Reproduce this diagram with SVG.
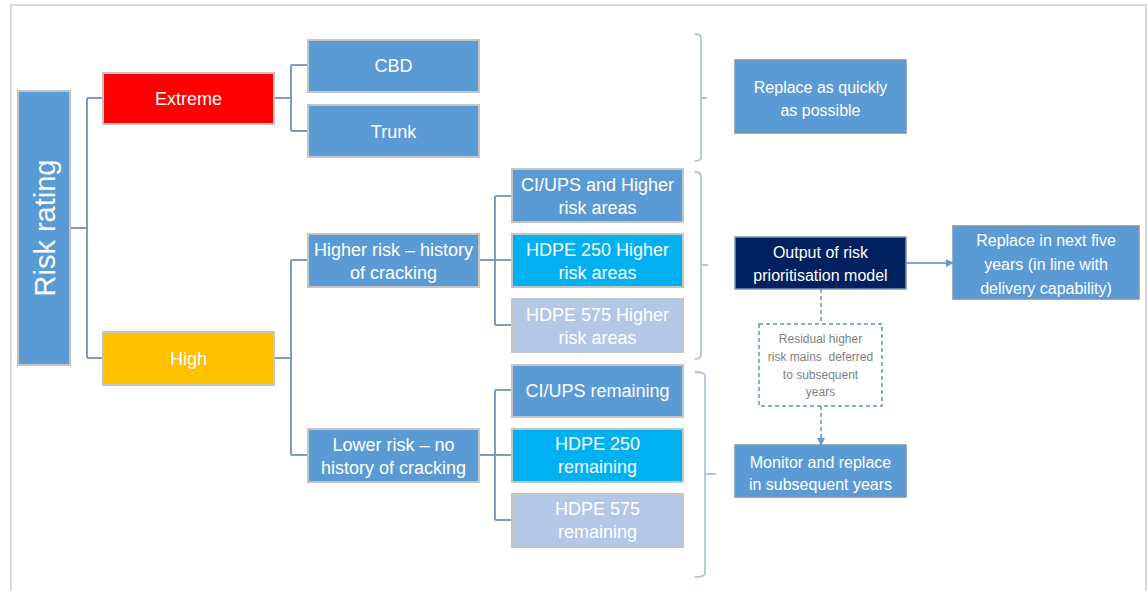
<svg xmlns="http://www.w3.org/2000/svg" width="1147" height="591" viewBox="0 0 1147 591">
<style>
.t{font-family:"Liberation Sans",Arial,sans-serif;fill:#fff;text-anchor:middle}
.f18{font-size:18px}
.f16{font-size:16px}
.box{stroke:#C4C4C4;stroke-width:2}
.rbox{stroke:#7F93AE;stroke-width:1.5}
.blue{fill:#5B9BD5}
.cyan{fill:#00B0F0}
.pale{fill:#B4C7E7}
.conn{fill:none;stroke:#7E9BBF;stroke-width:2}
.brace{fill:none;stroke:#B3C4D8;stroke-width:1.8}
</style>
<defs>
<marker id="ah" markerWidth="8" markerHeight="8" refX="7" refY="4" orient="auto" markerUnits="userSpaceOnUse">
<path d="M0,0 L8,4 L0,8 Z" fill="#6A9AD0"/>
</marker>
</defs>
<path d="M11,591 L11,5 L1146,5 L1146,591" fill="none" stroke="#D9D9D9" stroke-width="2"/>
<g id="connectors">
<path class="conn" d="M70,228 H87 M87,98 V358 M87,98 H103 M87,358 H103"/>
<path class="conn" d="M274,98 H291 M291,65 V131 M291,65 H308 M291,131 H308"/>
<path class="conn" d="M274,358 H291 M291,260 V455 M291,260 H308 M291,455 H308"/>
<path class="conn" d="M479,260 H495 M495,196 V325 M495,196 H512 M495,260 H512 M495,325 H512"/>
<path class="conn" d="M479,455 H495 M495,390 V520 M495,390 H512 M495,455 H512 M495,520 H512"/>
<path class="brace" d="M695,34 Q701,34 701,38 V157 Q701,161 695,161 M701,98 H707"/>
<path class="brace" d="M695,172 Q701,172 701,176 V355 Q701,359 695,359 M701,265 H708"/>
<path class="brace" d="M695,372 Q705,372 705,376 V573 Q705,577 695,577 M705,474 H716"/>
<path d="M906,263 H953" fill="none" stroke="#7FA7D4" stroke-width="2" marker-end="url(#ah)"/>
<path d="M821,289 V324" fill="none" stroke="#6A8FBF" stroke-width="1.5" stroke-dasharray="4,3"/>
<path d="M821,406 V445" fill="none" stroke="#6A8FBF" stroke-width="1.5" stroke-dasharray="4,3" marker-end="url(#ah)"/>
</g>
<g id="risk-rating">
<rect class="box blue" x="18" y="91" width="52" height="274"/>
<text class="t" font-size="29" transform="translate(55,228) rotate(-90)">Risk rating</text>
</g>
<g id="extreme">
<rect class="box" fill="#FF0000" x="103" y="73" width="171" height="51"/>
<text class="t f18" x="188.5" y="105">Extreme</text>
</g>
<g id="high">
<rect class="box" fill="#FFC000" x="103" y="332" width="171" height="53"/>
<text class="t f18" x="188.5" y="365">High</text>
</g>
<g id="cbd">
<rect class="box blue" x="308" y="40" width="171" height="52"/>
<text class="t f18" x="393.5" y="72">CBD</text>
</g>
<g id="trunk">
<rect class="box blue" x="308" y="105" width="171" height="52"/>
<text class="t f18" x="393.5" y="137.5">Trunk</text>
</g>
<g id="higher-risk">
<rect class="box blue" x="308" y="234" width="171" height="53"/>
<text class="t f18" x="393.5" y="255.5">Higher risk – history</text>
<text class="t f18" x="393.5" y="278.5">of cracking</text>
</g>
<g id="lower-risk">
<rect class="box blue" x="308" y="429" width="171" height="53"/>
<text class="t f18" x="393.5" y="450.5">Lower risk – no</text>
<text class="t f18" x="393.5" y="473.5">history of cracking</text>
</g>
<g id="ciups-higher">
<rect class="box blue" x="512" y="169" width="171" height="53"/>
<text class="t f18" x="597.5" y="190.5">CI/UPS and Higher</text>
<text class="t f18" x="597.5" y="213.5">risk areas</text>
</g>
<g id="hdpe250-higher">
<rect class="box cyan" x="512" y="234" width="171" height="53"/>
<text class="t f18" x="597.5" y="255.5">HDPE 250 Higher</text>
<text class="t f18" x="597.5" y="278.5">risk areas</text>
</g>
<g id="hdpe575-higher">
<rect class="box pale" x="512" y="299" width="171" height="53"/>
<text class="t f18" x="597.5" y="320.5">HDPE 575 Higher</text>
<text class="t f18" x="597.5" y="343.5">risk areas</text>
</g>
<g id="ciups-remaining">
<rect class="box blue" x="512" y="365" width="171" height="52"/>
<text class="t f18" x="597.5" y="396.5">CI/UPS remaining</text>
</g>
<g id="hdpe250-remaining">
<rect class="box cyan" x="512" y="429" width="171" height="53"/>
<text class="t f18" x="597.5" y="449.5">HDPE 250</text>
<text class="t f18" x="597.5" y="472.5">remaining</text>
</g>
<g id="hdpe575-remaining">
<rect class="box pale" x="512" y="494" width="171" height="53"/>
<text class="t f18" x="597.5" y="514.5">HDPE 575</text>
<text class="t f18" x="597.5" y="537.5">remaining</text>
</g>
<g id="replace-quickly">
<rect class="rbox blue" x="735" y="60" width="171" height="73"/>
<text class="t f16" x="820.5" y="92.5">Replace as quickly</text>
<text class="t f16" x="820.5" y="115.5">as possible</text>
</g>
<g id="output-model">
<rect class="rbox" fill="#002060" x="735" y="237" width="171" height="52"/>
<text class="t f16" x="820.5" y="257.5">Output of risk</text>
<text class="t f16" x="820.5" y="281">prioritisation model</text>
</g>
<g id="replace-five">
<rect class="rbox blue" x="953" y="226" width="186" height="73"/>
<text class="t f16" x="1046" y="245.5">Replace in next five</text>
<text class="t f16" x="1046" y="269.5">years (in line with</text>
<text class="t f16" x="1046" y="293.5">delivery capability)</text>
</g>
<g id="residual">
<rect x="759" y="324" width="123" height="82" fill="#fff" stroke="#6A8FBF" stroke-width="1.5" stroke-dasharray="4,3"/>
<text class="t" font-size="12" style="fill:#7F7F7F" x="820.5" y="343">Residual higher</text>
<text class="t" font-size="12" style="fill:#7F7F7F" x="820.5" y="361" xml:space="preserve">risk mains  deferred</text>
<text class="t" font-size="12" style="fill:#7F7F7F" x="820.5" y="379">to subsequent</text>
<text class="t" font-size="12" style="fill:#7F7F7F" x="820.5" y="396">years</text>
</g>
<g id="monitor">
<rect class="rbox blue" x="735" y="445" width="171" height="52"/>
<text class="t f16" x="820.5" y="467.5">Monitor and replace</text>
<text class="t f16" x="820.5" y="490">in subsequent years</text>
</g>
</svg>
